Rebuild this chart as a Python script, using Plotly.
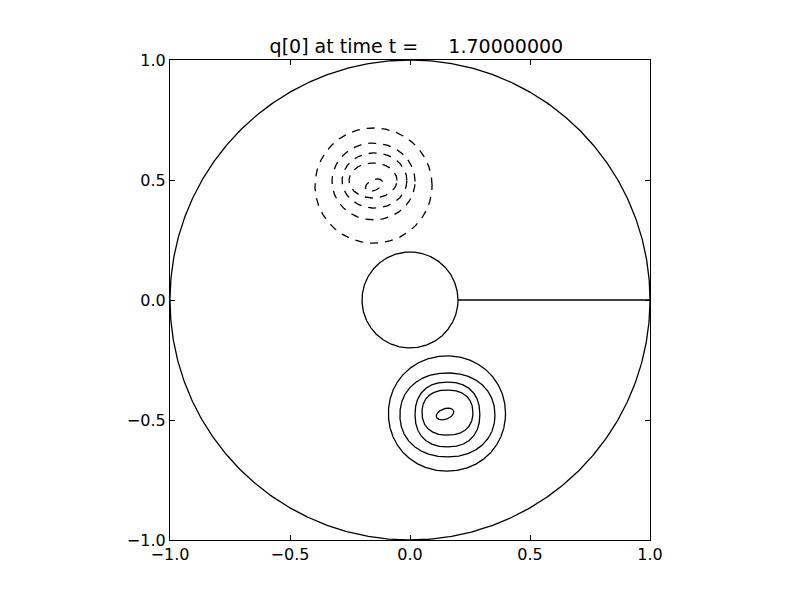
import numpy as np
import plotly.graph_objects as go

# ---- data ----
title_text = "q[0] at time t =     1.70000000"
tick_vals = [-1.0, -0.5, 0.0, 0.5, 1.0]
tick_text = ["\u22121.0", "\u22120.5", "0.0", "0.5", "1.0"]

outer_radius = 1.0
inner_radius = 0.2
cut_x = [0.2, 1.0]
cut_y = [0.0, 0.0]

# negative (dashed) contour levels: centre, semi-axes, tilt (deg)
neg_cx = [-0.152, -0.152, -0.148, -0.154, -0.150]
neg_cy = [0.477, 0.494, 0.498, 0.498, 0.479]
neg_rx = [0.244, 0.173, 0.135, 0.100, 0.038]
neg_ry = [0.240, 0.160, 0.115, 0.073, 0.022]
neg_tilt = [0, 0, 0, 0, 25]

# positive (solid) contour levels
pos_cx = [0.154, 0.156, 0.156, 0.156, 0.146]
pos_cy = [-0.473, -0.479, -0.477, -0.469, -0.475]
pos_rx = [0.244, 0.198, 0.135, 0.106, 0.038]
pos_ry = [0.240, 0.175, 0.135, 0.094, 0.022]
pos_tilt = [0, 0, 0, 0, 20]
pos_power = [2.05, 2.15, 2.3, 2.3, 2.0]

theta = np.linspace(0, 2 * np.pi, 721)


def loop(cx, cy, rx, ry, tilt, p=2.0):
    c, s = np.cos(theta), np.sin(theta)
    ex = np.sign(c) * np.abs(c) ** (2.0 / p) * rx
    ey = np.sign(s) * np.abs(s) ** (2.0 / p) * ry
    a = np.deg2rad(tilt)
    x = cx + ex * np.cos(a) - ey * np.sin(a)
    y = cy + ex * np.sin(a) + ey * np.cos(a)
    return x, y


fig = go.Figure()

line_black = dict(color="black", width=1.3)

for r in (outer_radius, inner_radius):
    fig.add_trace(go.Scatter(x=r * np.cos(theta), y=r * np.sin(theta), mode="lines",
                             line=line_black, hoverinfo="skip", showlegend=False))

fig.add_trace(go.Scatter(x=cut_x, y=cut_y, mode="lines",
                         line=dict(color="black", width=1.6), showlegend=False))

for cx, cy, rx, ry, t in zip(neg_cx, neg_cy, neg_rx, neg_ry, neg_tilt):
    x, y = loop(cx, cy, rx, ry, t)
    fig.add_trace(go.Scatter(x=x, y=y, mode="lines",
                             line=dict(color="black", width=1.3, dash="8px,7px"),
                             showlegend=False))

for cx, cy, rx, ry, t, p in zip(pos_cx, pos_cy, pos_rx, pos_ry, pos_tilt, pos_power):
    x, y = loop(cx, cy, rx, ry, t, p)
    fig.add_trace(go.Scatter(x=x, y=y, mode="lines", line=line_black, showlegend=False))

axis_common = dict(
    range=[-1, 1], tickvals=tick_vals, ticktext=tick_text,
    ticks="inside", ticklen=5, tickwidth=1, tickcolor="black",
    showline=True, linecolor="black", linewidth=1.2, mirror="ticks",
    showgrid=False, zeroline=False,
    tickfont=dict(family="DejaVu Sans", size=16, color="black"),
)

fig.update_layout(
    width=800, height=600,
    margin=dict(l=162, r=158, t=52, b=68),
    paper_bgcolor="white", plot_bgcolor="white",
    title=dict(text=title_text.replace(" ", "\u00a0"), x=0.5105, xanchor="center",
               y=1 - 38 / 600, yanchor="middle",
               font=dict(family="DejaVu Sans", size=19, color="black")),
    xaxis=dict(**axis_common),
    yaxis=dict(**axis_common),
    showlegend=False,
)

fig.write_html("out.html")
